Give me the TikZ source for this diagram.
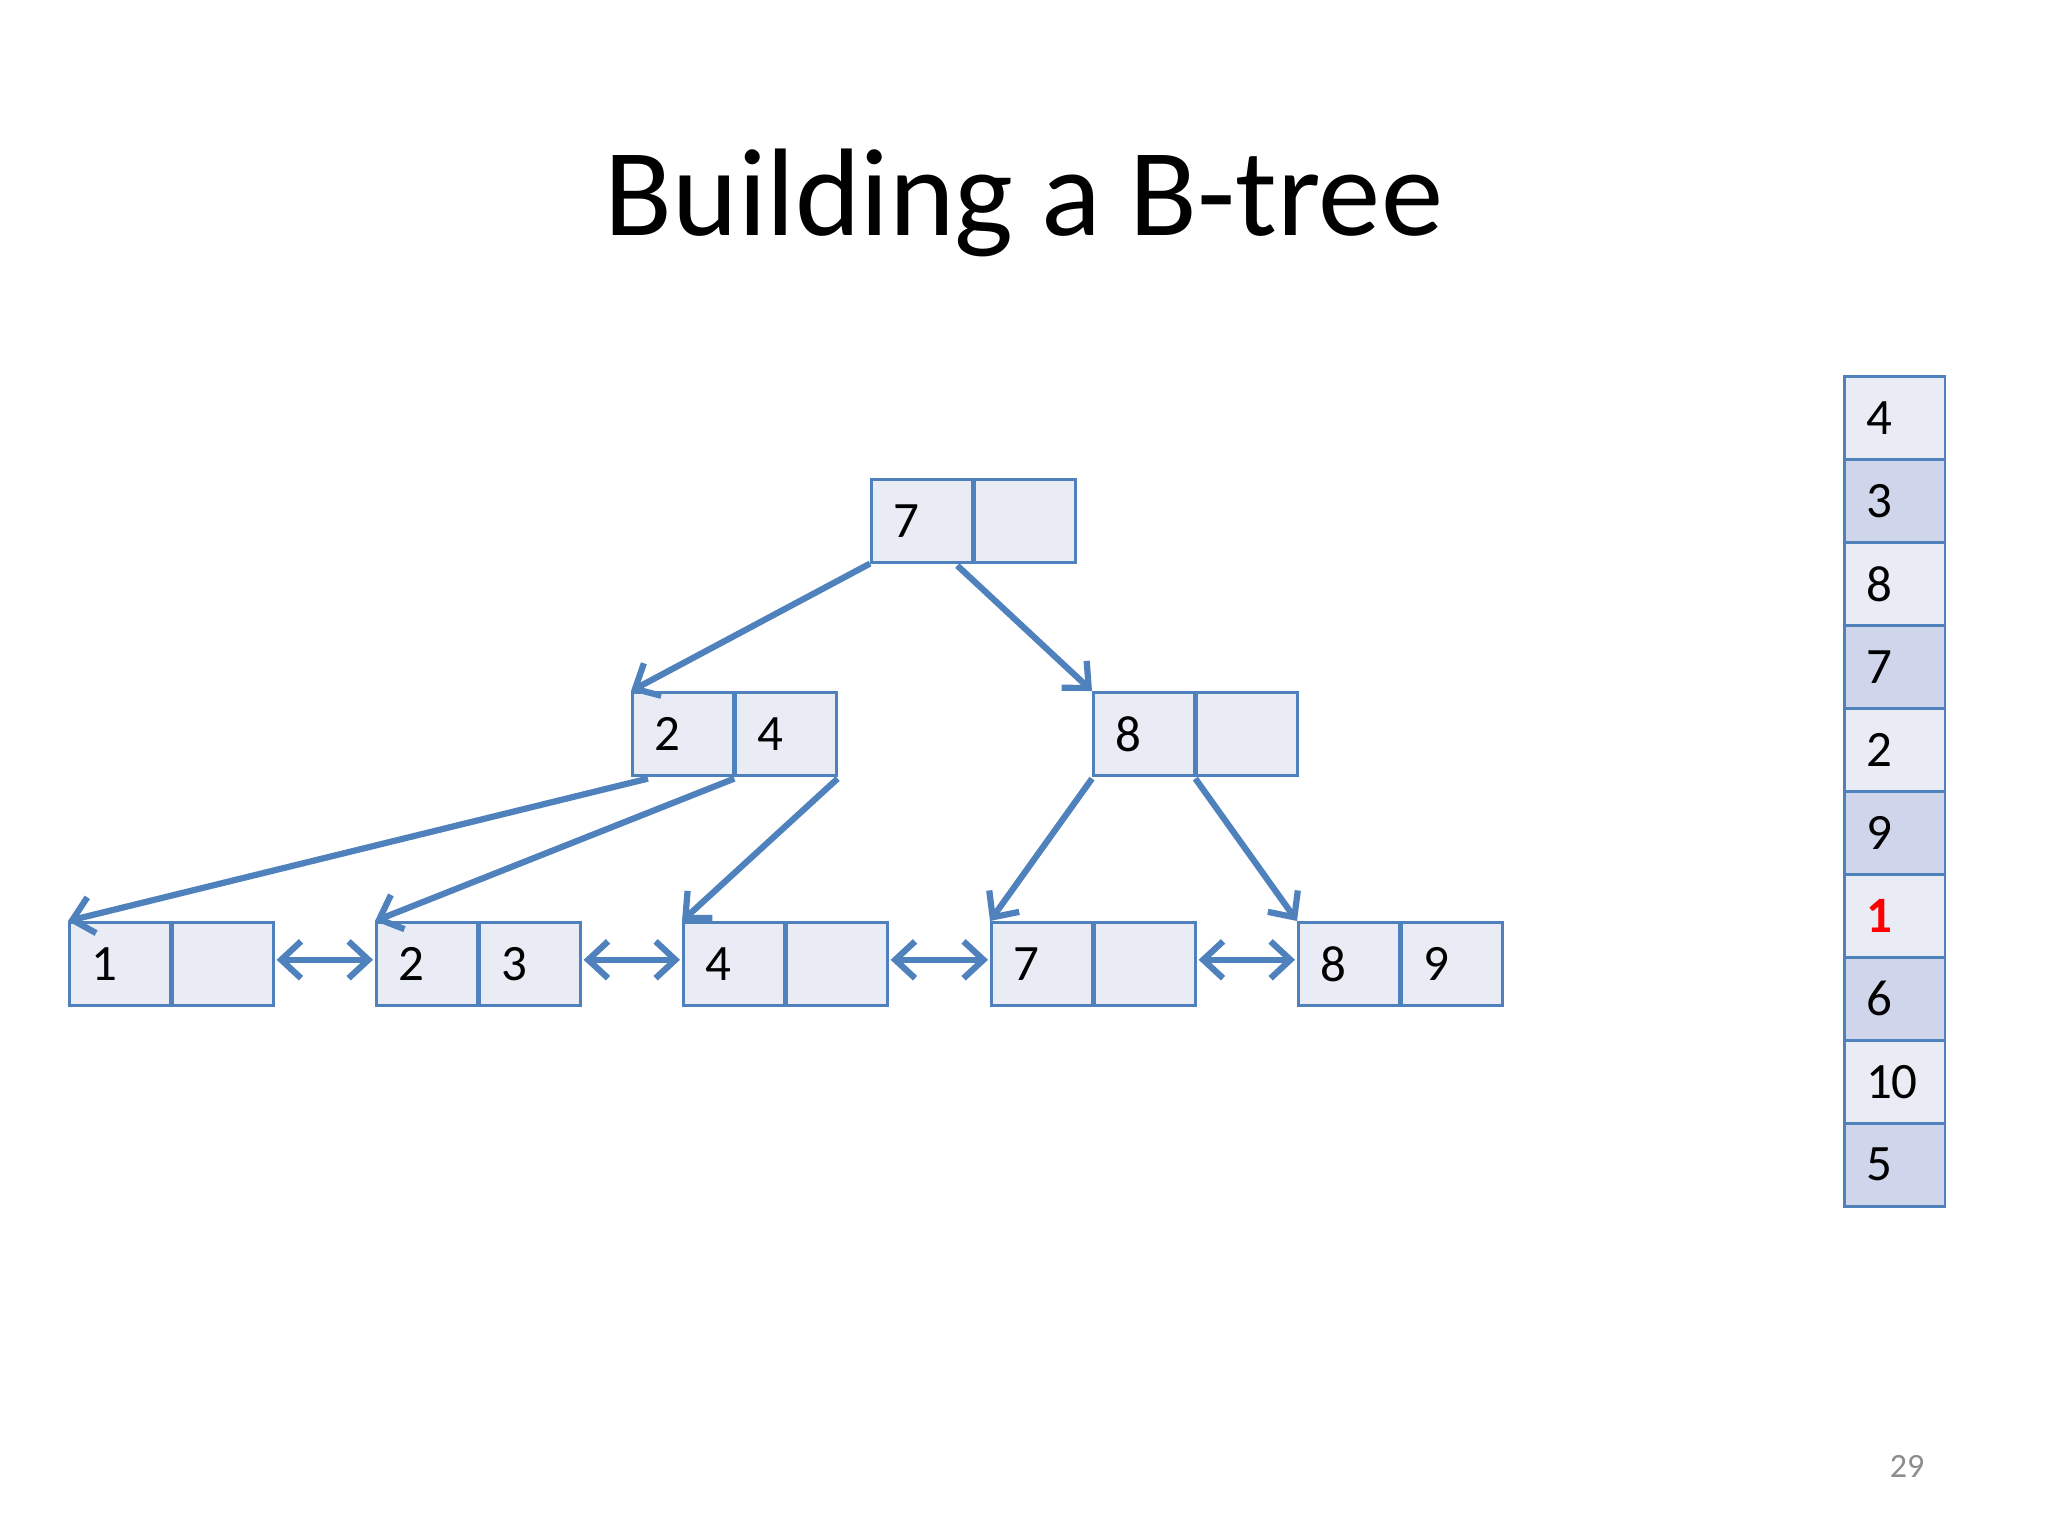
\documentclass[tikz,border=0pt]{standalone}
\usepackage{fontspec}
\setmainfont{Carlito}
\usepackage{xcolor}
\usetikzlibrary{arrows.meta,positioning,calc}
\definecolor{cellblue}{HTML}{4F81BD}
\definecolor{celllight}{HTML}{E9EBF5}
\definecolor{celldark}{HTML}{CFD5EA}
\definecolor{pagegray}{HTML}{8C8C8C}

\begin{document}
\begin{tikzpicture}[x=0.0124cm, y=-0.0124cm,
        cell/.style={draw=cellblue, line width=0.9pt, fill=celllight, minimum height=1.03cm,
                text width=0.71cm, inner xsep=0.27cm, align=left,
                font=\fontsize{18}{20}\selectfont, anchor=north west},
        link/.style={draw=cellblue, line width=2.2pt, -{Straight Barb[length=7pt,width=13pt]}},
        dlink/.style={draw=cellblue, line width=2.2pt,
                {Straight Barb[length=7pt,width=13pt]}-{Straight Barb[length=7pt,width=13pt]}}]
    \useasboundingbox (0,0) rectangle (2048,1536);
    \node[anchor=base] (title) at (1024,235) {\fontsize{44}{52}\selectfont Building a B-tree};
    % root
    \node[cell] (r1) at (870,478) {7};
    \node[cell, right=0pt of r1] (r2) {};
    % inner nodes
    \node[cell] (p1) at (631,691) {2};
    \node[cell, right=0pt of p1] (p2) {4};
    \node[cell] (q1) at (1092,691) {8};
    \node[cell, right=0pt of q1] (q2) {};
    % leaves
    \foreach \i/\x/\a/\b in {1/68/1/,2/375/2/3,3/682/4/,4/990/7/,5/1297/8/9} {
            \node[cell] (l\i a) at (\x,921) {\a};
            \node[cell, right=0pt of l\i a] (l\i b) {\b};
        }
    \draw[link] (r1.south west) -- (p1.north west);
    \draw[link] ($(r1.south east)+(-16,2)$) -- (q1.north west);
    \draw[link] ($(p1.south west)+(17,2)$) -- (l1a.north west);
    \draw[link] ($(p1.south east)+(0,2)$) -- (l2a.north west);
    \draw[link] ($(p2.south east)+(0,2)$) -- (l3a.north west);
    \draw[link] ($(q1.south west)+(0,2)$) -- (l4a.north west);
    \draw[link] ($(q1.south east)+(0,2)$) -- (l5a.north west);
    \foreach \i/\j in {1/2,2/3,3/4,4/5} {
            \draw[dlink] ($(l\i b.east)+(2,-4)$) -- ($(l\j a.west)+(-2,-4)$);
        }
    % key sequence
    \foreach \v/\fc [count=\i] in {4/celllight,3/celldark,8/celllight,7/celldark,2/celllight,
            9/celldark,{\textcolor{red}{\textbf{1}}}/celllight,6/celldark,10/celllight,5/celldark} {
            \node[cell, fill=\fc] (s\i) at (1843,{375+83*(\i-1)}) {\v};
        }
    \node[anchor=base, text=pagegray, font=\fontsize{12}{14}\selectfont] (page) at (1907,1477) {29};
\end{tikzpicture}
\end{document}
